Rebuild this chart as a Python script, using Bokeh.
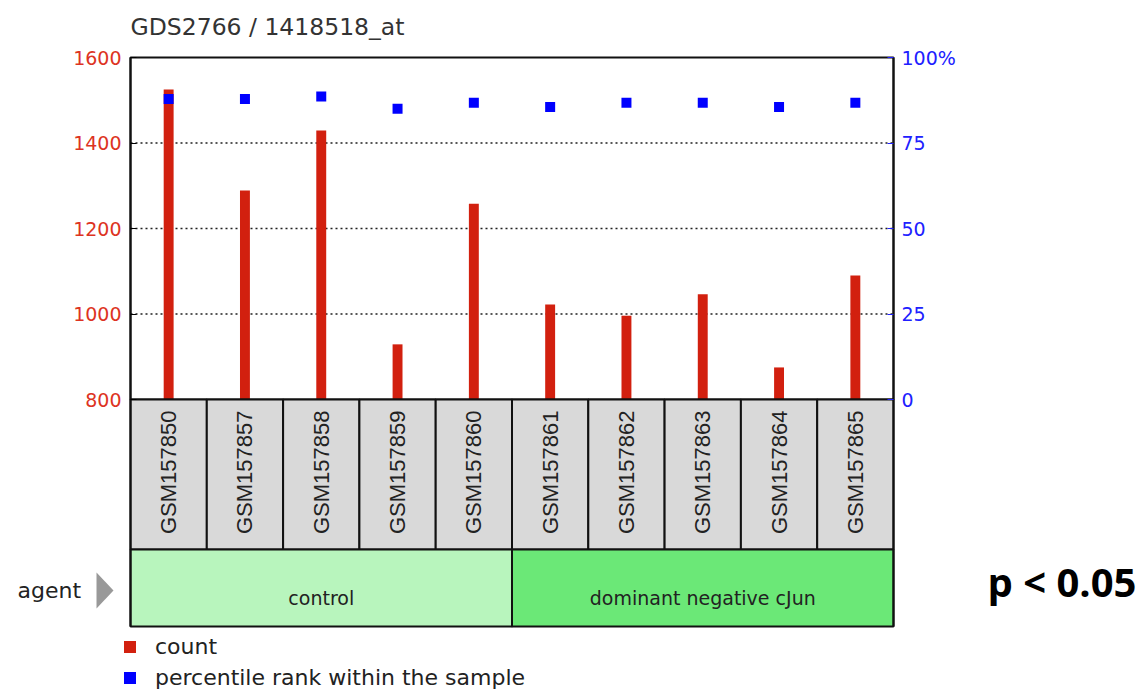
import numpy as np
from bokeh.plotting import figure
from bokeh.models import Range1d, LinearAxis, FixedTicker, Legend, LegendItem
from bokeh.core.properties import value
from bokeh.embed import file_html
from bokeh.resources import INLINE

# ---------------- data ----------------
title_text = "GDS2766 / 1418518_at"
samples = ["GSM157850", "GSM157857", "GSM157858", "GSM157859", "GSM157860",
           "GSM157861", "GSM157862", "GSM157863", "GSM157864", "GSM157865"]
counts = [1525, 1289, 1429, 929, 1258, 1022, 996, 1046, 875, 1090]
percentiles = [87.9, 87.9, 88.6, 85.0, 86.8, 85.5, 86.8, 86.8, 85.5, 86.8]
agent_groups = ["control", "dominant negative cJun"]
agent_sizes = [5, 5]
agent_colors = ["#b8f5bd", "#6be877"]
count_ticks = [800, 1000, 1200, 1400, 1600]
pct_ticks = [0, 25, 50, 75, 100]
legend_labels = ["count", "percentile rank within the sample"]
legend_colors = ["#d2200f", "#0000ff"]
annotation = "p < 0.05"
row_label = "agent"

# ---------------- layout (pixels) ----------------
W, H = 1146, 690
FL, FR_EDGE = 130, 893          # chart left / right edge
FT = 57                         # chart top (1600 / 100%)
CHART_H = 342                   # px from top value to bottom value
BOX_H = 150                     # sample-name boxes
AGENT_H = 77                    # agent row
FB = FT + CHART_H + BOX_H + AGENT_H
N = len(samples)
CW = (FR_EDGE - FL) / N

cmin, cmax = count_ticks[0], count_ticks[-1]
ppu = CHART_H / (cmax - cmin)
box_bottom = cmin - BOX_H / ppu
agent_bottom = box_bottom - AGENT_H / ppu
pmin, pmax = pct_ticks[0], pct_ticks[-1]
pppu = CHART_H / (pmax - pmin)

def px2cat(px):
    return (px - FL) / CW

def py2cnt(py):
    return cmax - (py - FT) / ppu

def py2pct(py):
    return pmax - (py - FT) / pppu

idx = np.arange(N)
xc = idx + 0.5

RED_TXT = "#dd3322"
BLUE_TXT = "#2020ff"
TXT = "#222222"

p = figure(width=W, height=H,
           x_range=Range1d(px2cat(0), px2cat(W)),
           y_range=Range1d(py2cnt(H), py2cnt(0)),
           output_backend="svg", toolbar_location=None,
           x_axis_location=None, min_border=0)
p.extra_y_ranges = {"pct": Range1d(py2pct(H), py2pct(0))}
p.outline_line_color = None
p.grid.visible = False

ax = p.yaxis[0]
ax.fixed_location = 0
ax.bounds = (agent_bottom, cmax)
ax.ticker = FixedTicker(ticks=count_ticks)
ax.axis_line_color = "#111111"
ax.axis_line_width = 2
ax.major_tick_in = 6
ax.major_tick_out = 0
ax.minor_tick_line_color = None
ax.major_tick_line_color = "black"
ax.major_label_text_color = RED_TXT
ax.major_label_text_font = "DejaVu Sans"
ax.major_label_text_font_size = "19px"
ax.major_label_standoff = 9

rax = LinearAxis(y_range_name="pct", ticker=FixedTicker(ticks=pct_ticks),
                 fixed_location=N)
rax.bounds = (py2pct(FB), pmax)
rax.major_label_overrides = {100: "100%"}
rax.axis_line_color = "#111111"
rax.axis_line_width = 2
rax.major_tick_in = 6
rax.major_tick_out = 0
rax.minor_tick_line_color = None
rax.major_tick_line_color = BLUE_TXT
rax.major_label_text_color = BLUE_TXT
rax.major_label_text_font = "DejaVu Sans"
rax.major_label_text_font_size = "19px"
rax.major_label_standoff = 8
p.add_layout(rax, "right")

# dotted horizontal grid lines at inner ticks
grid_ticks = count_ticks[1:-1]
p.segment(x0=[0] * len(grid_ticks), x1=[N] * len(grid_ticks), y0=grid_ticks,
          y1=grid_ticks, line_color="#222222", line_dash="2 3", line_width=1.3)

# bars
bars = p.vbar(x=xc, top=counts, bottom=cmin, width=0.13,
              fill_color=legend_colors[0], line_color=None)
# chart border
p.quad(left=[0], right=[N], bottom=[cmin], top=[cmax], fill_color=None,
       line_color="#111111", line_width=2)
# sample boxes
p.quad(left=idx, right=idx + 1, bottom=box_bottom, top=cmin,
       fill_color="#d9d9d9", line_color="#111111", line_width=2)
p.text(x=xc, y=[cmin - 11 / ppu] * N, text=samples, angle=np.pi / 2,
       text_font=value("Liberation Sans"), text_font_size="22px",
       text_color=TXT, text_align="right", text_baseline="middle")
# percentile markers
pts = p.rect(x=xc, y=percentiles, width=10, height=10,
             width_units="screen", height_units="screen",
             y_range_name="pct", fill_color=legend_colors[1], line_color=None)

# agent row
starts = np.cumsum([0] + agent_sizes[:-1])
ends = starts + np.array(agent_sizes)
p.quad(left=starts, right=ends, bottom=agent_bottom, top=box_bottom,
       fill_color=agent_colors, line_color="#111111", line_width=2)
p.text(x=(starts + ends) / 2, y=[py2cnt(597)] * len(agent_groups), text=agent_groups,
       text_font=value("DejaVu Sans"), text_font_size="19px",
       text_color=TXT, text_align="center", text_baseline="middle")

# title, row label, arrow, annotation
p.text(x=[0], y=[py2cnt(26)], text=[title_text], text_font=value("DejaVu Sans"),
       text_font_size="23.5px", text_color="#333333",
       text_align="left", text_baseline="alphabetic")
p.text(x=[px2cat(17)], y=[py2cnt(590)], text=[row_label],
       text_font=value("DejaVu Sans"), text_font_size="22px",
       text_color=TXT, text_align="left", text_baseline="middle")
p.patch(x=[px2cat(96), px2cat(96), px2cat(113)],
        y=[py2cnt(572), py2cnt(608), py2cnt(590)],
        fill_color="#999999", line_color=None)
p.text(x=[px2cat(987)], y=[py2cnt(581)], text=[annotation],
       text_font=value("Open Sans"), text_font_size="40px",
       text_font_style="bold", text_color="black",
       text_align="left", text_baseline="alphabetic")

# legend
LEG_ROW = 24
LEG_SP = 6
leg_h = 2 * LEG_ROW + LEG_SP
leg_top = 648 - LEG_ROW / 2
legend = Legend(items=[LegendItem(label=legend_labels[0], renderers=[bars]),
                       LegendItem(label=legend_labels[1], renderers=[pts])],
                location=(122, H - (leg_top + leg_h)), orientation="vertical",
                glyph_width=15, glyph_height=15, label_standoff=18,
                label_height=LEG_ROW, spacing=LEG_SP, padding=0, margin=0,
                border_line_color=None, background_fill_alpha=0,
                label_text_font="DejaVu Sans", label_text_font_size="22px",
                label_text_color=TXT)
p.add_layout(legend)

open("out.html", "w").write(file_html(p, INLINE))
